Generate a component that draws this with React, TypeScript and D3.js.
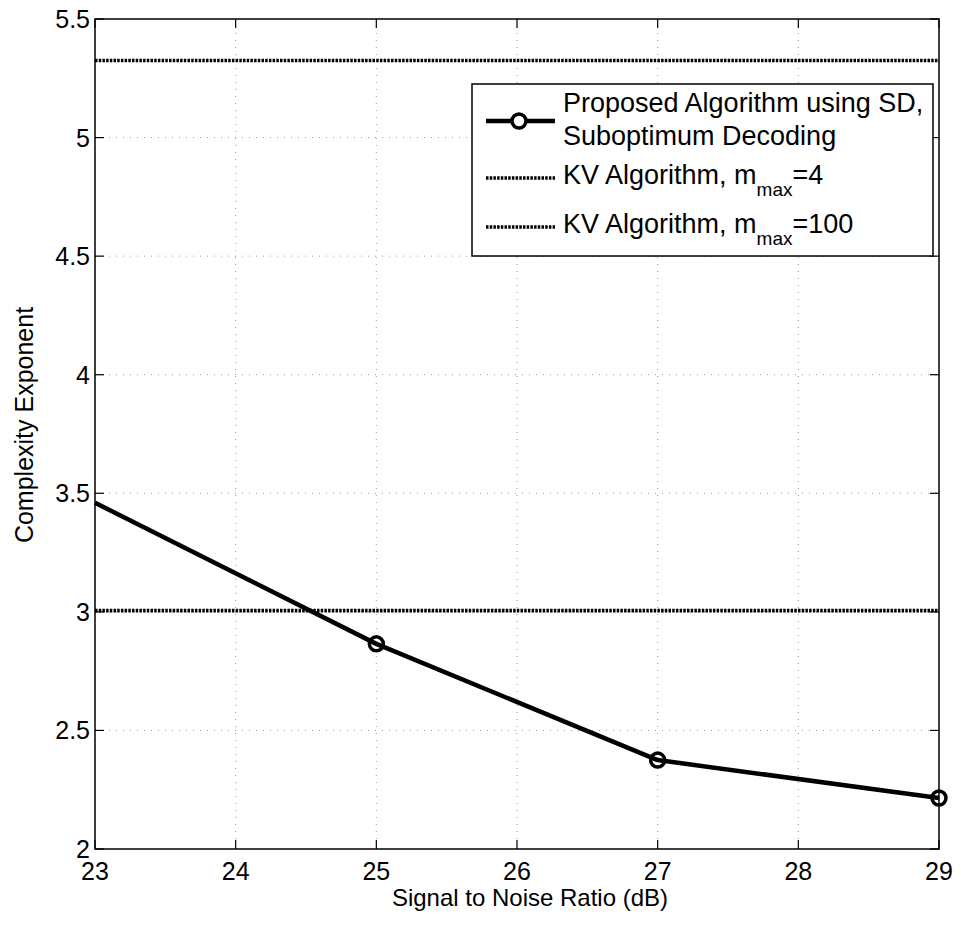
import React from "react";
import * as d3 from "d3";

const snr = [23, 25, 27, 29];
const proposed = [3.46, 2.865, 2.375, 2.215];
const markerShown = [false, true, true, true];
const kvM4 = 5.325;
const kvM100 = 3.005;
const xTicks = [23, 24, 25, 26, 27, 28, 29];
const yTicks = [2, 2.5, 3, 3.5, 4, 4.5, 5, 5.5];
const legendLabels = ["Proposed Algorithm using SD,", "Suboptimum Decoding", "KV Algorithm, m", "KV Algorithm, m"];
const legendSubs = ["", "", "max", "max"];
const legendTails = ["", "", "=4", "=100"];

const W = 961, H = 925;
const L = 95, R = 939, T = 19, B = 849;
const FONT = "'Liberation Sans', Arial, Helvetica, sans-serif";

export default function App() {
  const x = d3.scaleLinear().domain([23, 29]).range([L, R]);
  const y = d3.scaleLinear().domain([2, 5.5]).range([B, T]);
  const line = d3.line<number>().x((_, i) => x(snr[i])).y((d) => y(d));
  const tick = 9;
  const kvDash = "2.5,1.2";
  return (
    <svg width={W} height={H} style={{ position: "absolute", left: 0, top: 0, background: "#fff" }}>
      <rect x={0} y={0} width={W} height={H} fill="#fff" />
      {/* grid */}
      {xTicks.slice(1, -1).map((t) => (
        <line key={"gx" + t} x1={x(t)} x2={x(t)} y1={T} y2={B} stroke="#999" strokeWidth={1} strokeDasharray="1,6" />
      ))}
      {yTicks.slice(1, -1).map((t) => (
        <line key={"gy" + t} x1={L} x2={R} y1={y(t)} y2={y(t)} stroke="#999" strokeWidth={1} strokeDasharray="1,6" />
      ))}
      {/* KV lines */}
      <line x1={L} x2={R} y1={y(kvM4)} y2={y(kvM4)} stroke="#000" strokeWidth={3.6} strokeDasharray={kvDash} />
      <line x1={L} x2={R} y1={y(kvM100)} y2={y(kvM100)} stroke="#000" strokeWidth={3.6} strokeDasharray={kvDash} />
      {/* proposed */}
      <path d={line(proposed) || ""} fill="none" stroke="#000" strokeWidth={4.5} strokeLinejoin="round" />
      {proposed.map((v, i) =>
        markerShown[i] ? (
          <circle key={"m" + i} cx={x(snr[i])} cy={y(v)} r={7} fill="none" stroke="#000" strokeWidth={3.5} />
        ) : null
      )}
      {/* axes box */}
      <rect x={L} y={T} width={R - L} height={B - T} fill="none" stroke="#000" strokeWidth={1.5} />
      {xTicks.map((t) => (
        <g key={"xt" + t}>
          <line x1={x(t)} x2={x(t)} y1={B} y2={B - tick} stroke="#000" strokeWidth={1.2} />
          <line x1={x(t)} x2={x(t)} y1={T} y2={T + tick} stroke="#000" strokeWidth={1.2} />
          <text x={x(t)} y={880} textAnchor="middle" fontFamily={FONT} fontSize={25} fill="#000">{t}</text>
        </g>
      ))}
      {yTicks.map((t) => (
        <g key={"yt" + t}>
          <line x1={L} x2={L + tick} y1={y(t)} y2={y(t)} stroke="#000" strokeWidth={1.2} />
          <line x1={R} x2={R - tick} y1={y(t)} y2={y(t)} stroke="#000" strokeWidth={1.2} />
          <text x={90} y={y(t) + 9} textAnchor="end" fontFamily={FONT} fontSize={25} fill="#000">{t}</text>
        </g>
      ))}
      <text x={530} y={906} textAnchor="middle" fontFamily={FONT} fontSize={24} fill="#000">Signal to Noise Ratio (dB)</text>
      <text transform={`translate(33, 425) rotate(-90)`} textAnchor="middle" fontFamily={FONT} fontSize={25} fill="#000">Complexity Exponent</text>
      {/* legend */}
      <rect x={472} y={84} width={461} height={172} fill="#fff" stroke="#000" strokeWidth={1.5} />
      <line x1={486} x2={555} y1={121} y2={121} stroke="#000" strokeWidth={4.5} />
      <circle cx={519} cy={121} r={7} fill="#fff" stroke="#000" strokeWidth={3.5} />
      <line x1={486} x2={555} y1={178} y2={178} stroke="#000" strokeWidth={3.6} strokeDasharray={kvDash} />
      <line x1={486} x2={555} y1={227} y2={227} stroke="#000" strokeWidth={3.6} strokeDasharray={kvDash} />
      {[112, 145, 184, 233].map((by, i) => (
        <text key={"lg" + i} x={563} y={by} fontFamily={FONT} fontSize={27} fill="#000">
          {legendLabels[i]}
          {legendSubs[i] ? <tspan fontSize={19} dy={12}>{legendSubs[i]}</tspan> : null}
          {legendTails[i] ? <tspan dy={-12}>{legendTails[i]}</tspan> : null}
        </text>
      ))}
    </svg>
  );
}
